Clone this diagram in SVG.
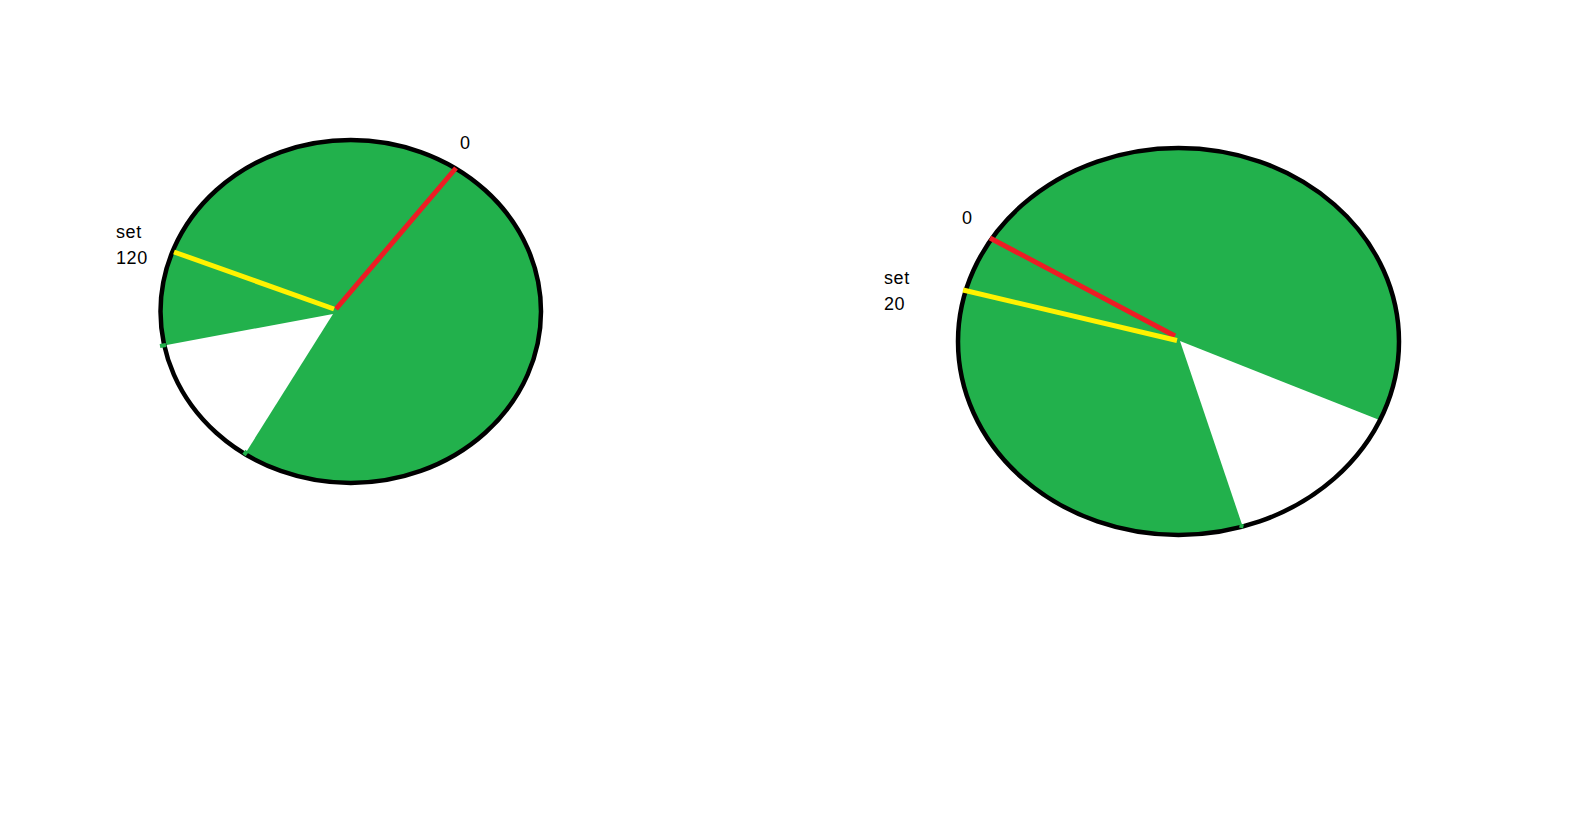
<svg xmlns="http://www.w3.org/2000/svg" width="1569" height="840" viewBox="0 0 1569 840">
<style>
.fill{fill:#22B14C;stroke:none}
.gap{fill:#FFFFFF;stroke:none}
.rim{fill:none;stroke:#000000;stroke-width:4.5}
.red{stroke:#ED1C24;stroke-width:5;fill:none}
.yel{stroke:#FFF200;stroke-width:5;fill:none}
.stub{stroke:#22B14C;stroke-width:4;fill:none}
.lbl{font-family:"Liberation Sans",Arial,sans-serif;font-size:18px;letter-spacing:0.6px;fill:#000000}
</style>
<rect x="0" y="0" width="1569" height="840" fill="#FFFFFF"/>
<g id="pie-left">
<ellipse class="fill" cx="350.75" cy="311.5" rx="190.25" ry="171.5"/>
<polygon class="gap" points="333,314 140,350 140,480 233,473"/>
<ellipse class="rim" cx="350.75" cy="311.5" rx="190.25" ry="171.5"/>
<line class="stub" x1="160" y1="346" x2="166" y2="345"/>
<line class="stub" x1="244" y1="455" x2="247" y2="451"/>
<line class="red" x1="336" y1="309" x2="456" y2="168"/>
<line class="yel" x1="174" y1="252" x2="334" y2="309"/>
</g>
<g id="pie-right">
<ellipse class="fill" cx="1178.5" cy="341.5" rx="220.5" ry="193.5"/>
<polygon class="gap" points="1180,341 1420,436 1420,560 1254,560"/>
<ellipse class="rim" cx="1178.5" cy="341.5" rx="220.5" ry="193.5"/>
<line class="stub" x1="1241" y1="528" x2="1242" y2="524"/>
<line class="red" x1="990" y1="238" x2="1175" y2="336"/>
<line class="yel" x1="963" y1="290" x2="1177" y2="340.5"/>
</g>
<g id="labels">
<text class="lbl" x="460" y="149">0</text>
<text class="lbl" x="116" y="238">set</text>
<text class="lbl" x="116" y="264">120</text>
<text class="lbl" x="962" y="224">0</text>
<text class="lbl" x="884" y="284">set</text>
<text class="lbl" x="884" y="310">20</text>
</g>
</svg>
